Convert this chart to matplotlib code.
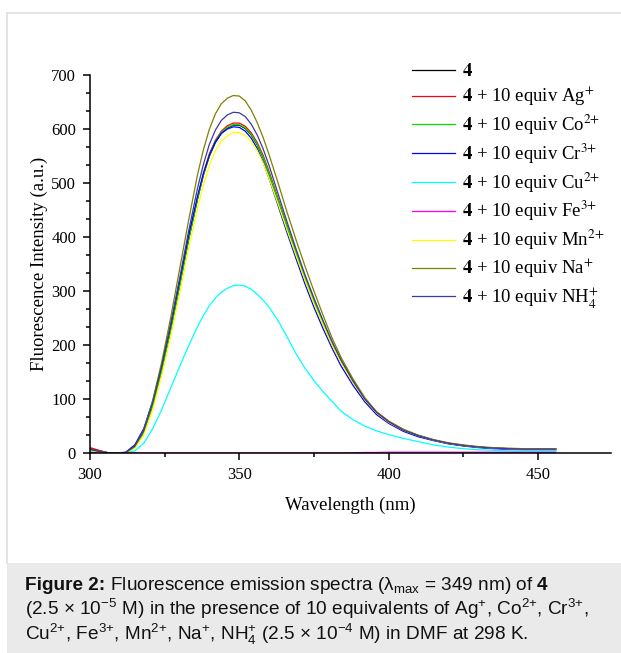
import matplotlib
matplotlib.use('Agg')
import matplotlib.pyplot as plt
from matplotlib.lines import Line2D
from matplotlib.patches import Rectangle
from matplotlib.ticker import MultipleLocator
from matplotlib.font_manager import FontProperties

plt.rcParams['mathtext.fontset'] = 'custom'
plt.rcParams['mathtext.rm'] = 'Liberation Sans'
plt.rcParams['mathtext.bf'] = 'Liberation Sans:bold'
plt.rcParams['mathtext.it'] = 'Liberation Sans:italic'
plt.rcParams['mathtext.sf'] = 'Liberation Sans'

# ---------------- data ----------------
wavelength = [300, 303, 306, 309, 312, 315, 318, 321, 324, 327, 330, 333, 336, 338, 340,
              342, 344, 346, 348, 350, 352, 354, 356, 358, 360, 363, 366, 369, 372, 375,
              378, 381, 384, 388, 392, 396, 400, 405, 410, 415, 420, 425, 430, 435, 440,
              445, 450, 456]

int_4 = [8, 4, 0.5, 0, 0.5, 12, 40, 90, 155, 228, 310, 395, 470, 515, 550,
         575, 592, 602, 607, 607, 601, 589, 571, 547, 517, 468, 418, 370, 323, 280,
         240, 203, 170, 132, 100, 75, 58, 42, 32, 24, 18, 14, 11, 9, 8,
         7, 7, 7]
int_Ag = [10, 5, 0.5, 0, 0.5, 11, 38, 88, 153, 227, 310, 396, 472, 518, 554,
          579, 596, 606, 611, 611, 605, 593, 575, 551, 521, 471, 421, 373, 326, 283,
          243, 206, 172, 134, 101, 76, 59, 43, 32, 24, 18, 14, 11, 9, 8,
          7, 7, 7]
int_Co = [7, 3, 0.5, 0, 0.5, 11, 38, 88, 153, 227, 309, 394, 470, 516, 551,
          577, 594, 603, 608, 608, 602, 590, 572, 548, 518, 469, 420, 372, 325, 282,
          242, 204, 171, 133, 100, 75, 58, 42, 32, 24, 18, 14, 11, 9, 8,
          7, 7, 7]
int_Cr = [7, 3, 0.5, 0, 1.5, 15, 45, 96, 162, 236, 318, 402, 475, 518, 552,
          576, 592, 600, 604, 603, 596, 583, 564, 539, 508, 458, 408, 360, 313, 270,
          231, 195, 162, 126, 95, 71, 55, 40, 30, 23, 17, 13, 10, 8, 7,
          6, 6, 6]
int_Cu = [3, 1.5, 0.3, 0, 0, 4, 18, 45, 80, 120, 160, 198, 234, 255, 273,
          287, 298, 305, 310, 311, 309, 303, 294, 283, 270, 245, 215, 184, 157, 134,
          114, 96, 78, 62, 50, 41, 34, 27, 21, 15, 11, 8, 6, 5, 4,
          4, 4, 4]
int_Fe = [0.5, 0.5, 0.3, 0, 0, 0, 0, 0, 0, 0, 0, 0, 0, 0, 0,
          0, 0, 0, 0, 0, 0, 0, 0, 0, 0, 0, 0, 0, 0, 0,
          0, 0, 0, 0.5, 1, 1, 1.5, 1.5, 1.5, 1.5, 1.5, 1.5, 1.5, 1.5, 1.5,
          1.5, 1.5, 1.5]
int_Mn = [5, 2, 0.5, 0, 0, 9, 33, 80, 143, 215, 295, 378, 453, 497, 533,
          560, 577, 587, 593, 593, 588, 577, 560, 537, 508, 461, 413, 366, 320, 277,
          238, 201, 168, 131, 99, 74, 57, 42, 32, 24, 18, 14, 11, 9, 8,
          7, 7, 7]
int_Na = [6, 3, 0.5, 0, 0.5, 12, 42, 97, 168, 250, 340, 430, 515, 562, 600,
          628, 647, 657, 662, 661, 652, 635, 612, 584, 552, 500, 446, 395, 346, 300,
          256, 214, 178, 138, 103, 76, 59, 44, 33, 25, 19, 15, 12, 10, 9,
          8, 8, 8]
int_NH4 = [7, 3, 0.5, 0, 1, 13, 42, 93, 160, 238, 323, 410, 490, 535, 572,
           598, 616, 626, 631, 630, 623, 609, 589, 563, 532, 480, 428, 378, 330, 287,
           246, 207, 173, 134, 100, 75, 58, 42, 32, 24, 18, 14, 11, 9, 8,
           7, 7, 7]

series = [int_4, int_Ag, int_Co, int_Cr, int_Cu, int_Fe, int_Mn, int_Na, int_NH4]
labels = [r'$\mathbf{4}$',
          r'$\mathbf{4}$ + 10 equiv Ag$^{{+}}$',
          r'$\mathbf{4}$ + 10 equiv Co$^{2{+}}$',
          r'$\mathbf{4}$ + 10 equiv Cr$^{3{+}}$',
          r'$\mathbf{4}$ + 10 equiv Cu$^{2{+}}$',
          r'$\mathbf{4}$ + 10 equiv Fe$^{3{+}}$',
          r'$\mathbf{4}$ + 10 equiv Mn$^{2{+}}$',
          r'$\mathbf{4}$ + 10 equiv Na$^{{+}}$',
          r'$\mathbf{4}$ + 10 equiv NH$_{4}^{{+}}$']
colors = ['#000000', '#FF0000', '#00E000', '#0000FF', '#00FFFF', '#FF00FF',
          '#FFFF00', '#808000', '#3A3AA0']

x_ticks = [300, 350, 400, 450]
y_ticks = [0, 100, 200, 300, 400, 500, 600, 700]

caption_bold = 'Figure 2:'
caption_line1 = r' Fluorescence emission spectra (λ$_{\mathrm{max}}$ = 349 nm) of $\mathbf{4}$'
caption_line2 = r'(2.5 × 10$^{-5}$ M) in the presence of 10 equivalents of Ag$^{{+}}$, Co$^{2{+}}$, Cr$^{3{+}}$,'
caption_line3 = r'Cu$^{2{+}}$, Fe$^{3{+}}$, Mn$^{2{+}}$, Na$^{{+}}$, NH$_{4}^{{+}}$ (2.5 × 10$^{-4}$ M) in DMF at 298 K.'

# ---------------- figure ----------------
W, H = 621, 653
fig = plt.figure(figsize=(W / 100, H / 100), dpi=100)
fig.patch.set_facecolor('white')

# panel frame and caption background
fig.patches.append(Rectangle((7 / W, 0), 1 - 7 / W, 90 / H, transform=fig.transFigure,
                             facecolor='#EAEAEA', edgecolor='none', zorder=0))
fig.lines.append(Line2D([7 / W, 1], [1 - 13 / H, 1 - 13 / H], transform=fig.transFigure,
                        color='#E2E2E2', lw=1.3))
fig.lines.append(Line2D([7 / W, 7 / W], [90 / H, 1 - 13 / H], transform=fig.transFigure,
                        color='#E2E2E2', lw=1.3))

ax = fig.add_axes([90 / W, 200 / H, 521 / W, 378 / H])
ax.set_facecolor('none')
for vals, lab, col in zip(series, labels, colors):
    ax.plot(wavelength, vals, color=col, lw=0.9, label=lab)

ax.set_xlim(300, 474.5)
ax.set_ylim(0, 700)
ax.set_xticks(x_ticks)
ax.set_yticks(y_ticks)
ax.xaxis.set_minor_locator(MultipleLocator(25))
ax.yaxis.set_minor_locator(MultipleLocator(100 / 3))
for s in ['top', 'right']:
    ax.spines[s].set_visible(False)
for s in ['left', 'bottom']:
    ax.spines[s].set_linewidth(1.1)
ax.tick_params(which='major', direction='out', length=5, width=1.1, pad=5,
               labelsize=12, labelfontfamily='Liberation Serif')
ax.tick_params(which='minor', direction='out', length=3, width=1.1)
ax.set_xlabel('Wavelength (nm)', family='Liberation Serif', fontsize=13.5, labelpad=10)
ax.set_ylabel('Fluorescence Intensity (a.u.)', family='Liberation Serif', fontsize=13.5,
              labelpad=2)

leg_font = FontProperties(family='Liberation Serif', size=13.5, math_fontfamily='stix')
leg = ax.legend(loc='upper left', bbox_to_anchor=(412 / W, 1 - 63 / H),
                bbox_transform=fig.transFigure, frameon=False, prop=leg_font,
                handlelength=2.3, handletextpad=0.35, labelspacing=0.24,
                borderpad=0, borderaxespad=0)

# caption
cap_kw = dict(family='Liberation Sans', fontsize=13.7, color='#111111',
              transform=fig.transFigure, va='baseline', ha='left')
t_bold = fig.text(25 / W, 1 - 590 / H, caption_bold, fontweight='bold', **cap_kw)
renderer = fig.canvas.get_renderer()
bb = t_bold.get_window_extent(renderer=renderer)
fig.text(bb.x1 / W, 1 - 590 / H, caption_line1, **cap_kw)
fig.text(25 / W, 1 - 615 / H, caption_line2, **cap_kw)
fig.text(25 / W, 1 - 640 / H, caption_line3, **cap_kw)

fig.savefig('out.png', dpi=100)
